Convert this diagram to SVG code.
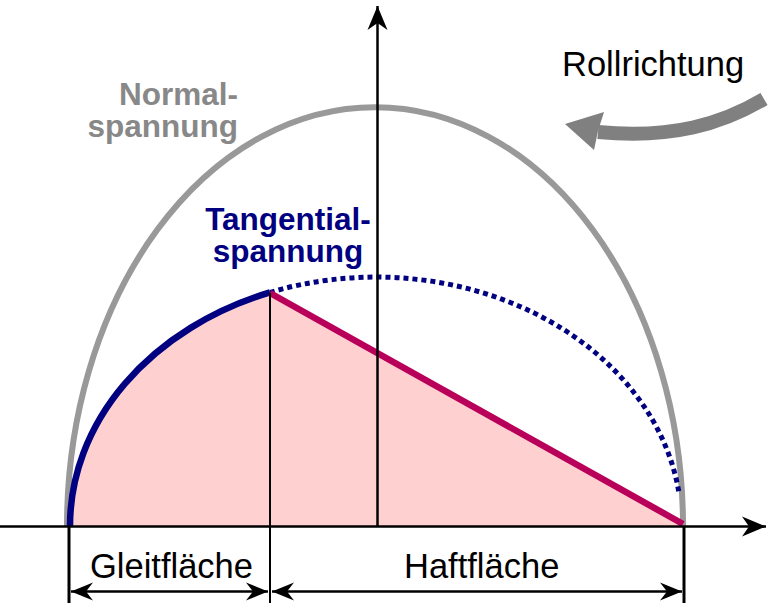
<svg xmlns="http://www.w3.org/2000/svg" width="769" height="603" viewBox="0 0 769 603">
<defs>
<style>
.lbl{font-family:"Liberation Sans",Arial,sans-serif;font-size:34.5px;fill:#000}
.bold{font-family:"Liberation Sans",Arial,sans-serif;font-weight:bold;font-size:31.5px}
.ln{stroke:#000;fill:none}
</style>
<marker id="ah" markerUnits="userSpaceOnUse" markerWidth="30" markerHeight="24" viewBox="-26 -12 28 24" refX="0" refY="0" orient="auto-start-reverse">
<path d="M0,0 L-24,-10 L-17,0 L-24,10 Z" fill="#000"/>
</marker>
<marker id="ahs" markerUnits="userSpaceOnUse" markerWidth="30" markerHeight="24" viewBox="-26 -12 28 24" refX="0" refY="0" orient="auto-start-reverse">
<path d="M0,0 L-22,-9 L-15,0 L-22,9 Z" fill="#000"/>
</marker>
</defs>
<rect width="769" height="603" fill="#fff"/>

<g id="fill-area">
<path d="M70,526 A306,249 0 0 1 270,292.4 L683,526 Z" fill="#ffd0d0"/>
</g>

<g id="normalspannung">
<path d="M67,526 A308,419 0 0 1 683,526" fill="none" stroke="#999" stroke-width="6"/>
<text class="bold" x="238" y="105" text-anchor="end" fill="#888">Normal-</text>
<text class="bold" x="238" y="137" text-anchor="end" fill="#888">spannung</text>
</g>

<g id="tangentialspannung">
<path d="M270,292.4 A306,249 0 0 1 679,493" fill="none" stroke="#000080" stroke-width="5" stroke-dasharray="5 4"/>
<path d="M70,526 A306,249 0 0 1 270,292.4" fill="none" stroke="#000080" stroke-width="6.5"/>
<text class="bold" x="288" y="230" text-anchor="middle" fill="#000080">Tangential-</text>
<text class="bold" x="288" y="262" text-anchor="middle" fill="#000080">spannung</text>
</g>

<g id="haftlinie">
<line x1="270" y1="293" x2="683" y2="524" stroke="#b8005a" stroke-width="6.5"/>
</g>

<g id="connectors">
<line class="ln" x1="0" y1="526.5" x2="766" y2="526.5" stroke-width="2.5" marker-end="url(#ah)"/>
<line class="ln" x1="377.5" y1="526" x2="377.5" y2="6" stroke-width="2.5" marker-end="url(#ah)"/>
<line class="ln" x1="270" y1="293" x2="270" y2="603" stroke-width="2"/>
<line class="ln" x1="69" y1="526" x2="69" y2="603" stroke-width="3"/>
<line class="ln" x1="684" y1="526" x2="684" y2="603" stroke-width="3"/>
<line class="ln" x1="71" y1="591.5" x2="268" y2="591.5" stroke-width="2.5" marker-start="url(#ahs)" marker-end="url(#ahs)"/>
<line class="ln" x1="272" y1="591.5" x2="682" y2="591.5" stroke-width="2.5" marker-start="url(#ahs)" marker-end="url(#ahs)"/>
</g>

<g id="labels">
<text class="lbl" x="90" y="578">Gleitfläche</text>
<text class="lbl" x="404" y="578">Haftfläche</text>
</g>

<g id="rollrichtung">
<text class="lbl" x="562" y="76">Rollrichtung</text>
<path d="M764,99 C722,124 672,139 598,132" fill="none" stroke="#808080" stroke-width="14"/>
<path d="M565,124 L604,112 L598,131 L594,150 Z" fill="#808080"/>
</g>
</svg>
